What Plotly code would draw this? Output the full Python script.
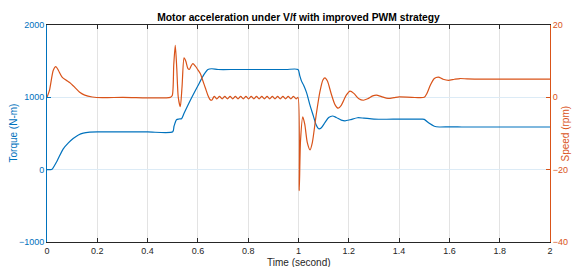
import plotly.graph_objects as go

# Torque (N-m) vs time (s)
torque_t = [0, 0.015, 0.02, 0.04, 0.064, 0.085, 0.104, 0.125, 0.144, 0.17, 0.2, 0.3, 0.4, 0.5,
            0.505, 0.515, 0.525, 0.535, 0.545, 0.57, 0.6, 0.625, 0.64, 0.655, 0.68, 0.75, 0.85, 0.95, 0.998,
            1.005, 1.012, 1.02, 1.032, 1.045, 1.059, 1.07, 1.08, 1.09, 1.105, 1.12, 1.135, 1.15, 1.17, 1.185,
            1.205, 1.235, 1.26, 1.3, 1.35, 1.4, 1.49, 1.5, 1.52, 1.54, 1.56, 1.6, 1.65, 2.0]
torque_v = [0, 0, 5, 120, 285, 370, 430, 480, 505, 518, 522, 522, 522, 523,
            600, 690, 700, 705, 780, 960, 1160, 1320, 1385, 1395, 1385, 1385, 1385, 1385, 1385,
            1300, 1224, 1170, 1065, 900, 743, 620, 565, 575, 650, 720, 742, 722, 685, 675,
            690, 718, 712, 700, 697, 698, 698, 695, 640, 600, 590, 592, 590, 590]

# Speed (rpm) vs time (s)
speed_t = [0, 0.01, 0.025, 0.035, 0.045, 0.06, 0.075, 0.09, 0.11, 0.13, 0.15, 0.18, 0.22, 0.3, 0.49,
           0.498, 0.504, 0.51, 0.516, 0.522, 0.53, 0.537, 0.545, 0.552, 0.56, 0.566, 0.574, 0.58, 0.59,
           0.6, 0.61, 0.62, 0.63, 0.64, 0.648, 0.655,
           0.665, 0.6755, 0.686, 0.6965, 0.707, 0.7175, 0.728, 0.7385, 0.749, 0.7595, 0.77, 0.7805,
           0.791, 0.8015, 0.812, 0.8225, 0.833, 0.8435, 0.854, 0.8645, 0.875, 0.8855, 0.896, 0.9065,
           0.917, 0.9275, 0.938, 0.9485, 0.959, 0.9695, 0.98, 0.9905, 0.998,
           1.003, 1.008, 1.017, 1.025, 1.035, 1.046, 1.055, 1.07, 1.085, 1.097, 1.105, 1.115, 1.13,
           1.145, 1.158, 1.17, 1.19, 1.205, 1.22, 1.24, 1.258, 1.275, 1.295, 1.31, 1.33, 1.356, 1.38,
           1.4, 1.45, 1.5, 1.51, 1.525, 1.54, 1.556, 1.575, 1.596, 1.62, 1.642, 1.67, 1.7, 2.0]
speed_v = [0, 2, 7.5, 8.5, 7.5, 5.6, 4.8, 4.1, 2.8, 1.4, 0.6, 0.1, -0.1, 0, 0,
           0.5, 9, 14.4, 8, 0, -2.6, 3, 10.9, 10, 8, 7.7, 8.8, 9.3, 8.6,
           7.6, 6.5, 4.5, 2.5, 0.5, -0.6, -0.8,
           0.25, -0.45, 0.25, -0.45, 0.25, -0.45, 0.25, -0.45, 0.25, -0.45, 0.25, -0.45,
           0.25, -0.45, 0.25, -0.45, 0.25, -0.45, 0.25, -0.45, 0.25, -0.45, 0.25, -0.45,
           0.25, -0.45, 0.25, -0.45, 0.25, -0.45, 0.25, -0.45, 0,
           -25.8, -12, -5.4, -7.5, -12.5, -14.5, -12.5, -5, 1.5, 4.8, 5.4, 4.5, 1,
           -2, -3, -2.2, 0.6, 1.7, 1.1, -0.4, -0.8, -0.4, 0.4, 0.6, 0.2, -0.3, -0.1,
           0.1, 0, 0, 1, 3.5, 5.2, 5.6, 5, 4.7, 5.0, 5.2, 5.1, 5.05, 5.05]

x_ticks = [0, 0.2, 0.4, 0.6, 0.8, 1, 1.2, 1.4, 1.6, 1.8, 2]
x_tick_labels = ["0", "0.2", "0.4", "0.6", "0.8", "1", "1.2", "1.4", "1.6", "1.8", "2"]
torque_ticks = [-1000, 0, 1000, 2000]
speed_ticks = [-40, -20, 0, 20]

BLUE = "#0072BD"
ORANGE = "#D95319"
DARK = "#262626"
FONT = "Liberation Sans, Arial, sans-serif"

fig = go.Figure()
fig.add_trace(go.Scatter(x=speed_t, y=speed_v, yaxis="y2", mode="lines",
                         line=dict(color=ORANGE, width=1.2, shape="spline", smoothing=0.7),
                         hoverinfo="skip", showlegend=False))
fig.add_trace(go.Scatter(x=torque_t, y=torque_v, mode="lines",
                         line=dict(color=BLUE, width=1.2, shape="spline", smoothing=0.7),
                         hoverinfo="skip", showlegend=False))

fig.update_layout(
    width=578, height=267,
    margin=dict(l=47, r=28, t=25, b=25, autoexpand=False),
    paper_bgcolor="white", plot_bgcolor="white",
    font=dict(family=FONT, size=9, color=DARK),
    title=dict(text="<b>Motor acceleration under V/f with improved PWM strategy</b>",
               x=298.5 / 578, xanchor="center", y=1 - 17 / 267, yanchor="middle",
               font=dict(size=10.3, color="#000000", family=FONT)),
    xaxis=dict(range=[0, 2], tickvals=x_ticks, ticktext=x_tick_labels, automargin=False,
               showgrid=True, gridcolor="#e3e3e3", gridwidth=1,
               zeroline=False, showline=True, linecolor=DARK, linewidth=1,
               mirror="ticks", ticks="inside", ticklen=4, tickcolor=DARK,
               tickfont=dict(size=9, color=DARK)),
    yaxis=dict(range=[-1000, 2000], tickvals=torque_ticks, automargin=False,
               showgrid=True, gridcolor="#dcebf6", gridwidth=1,
               zeroline=False, showline=True, linecolor=BLUE, linewidth=1,
               ticks="inside", ticklen=4, tickcolor=BLUE,
               tickfont=dict(size=9, color=BLUE)),
    yaxis2=dict(range=[-40, 20], tickvals=speed_ticks, overlaying="y", side="right",
                automargin=False,
                showgrid=False, zeroline=False, showline=True, linecolor=ORANGE, linewidth=1,
                ticks="inside", ticklen=4, tickcolor=ORANGE,
                tickfont=dict(size=9, color=ORANGE)),
    annotations=[
        dict(text="Torque (N-m)", xref="paper", yref="paper", x=-34 / 503, y=0.5,
             xanchor="center", yanchor="middle", textangle=-90, showarrow=False,
             font=dict(size=10, color=BLUE)),
        dict(text="Speed (rpm)", xref="paper", yref="paper", x=1 + 15 / 503, y=0.5,
             xanchor="center", yanchor="middle", textangle=-90, showarrow=False,
             font=dict(size=10, color=ORANGE)),
        dict(text="Time (second)", xref="paper", yref="paper", x=0.5, y=-20 / 217,
             xanchor="center", yanchor="middle", showarrow=False,
             font=dict(size=10, color=DARK)),
    ],
)

fig.write_html("out.html", config={"displayModeBar": False},
               post_script="document.body.style.margin='0';")
